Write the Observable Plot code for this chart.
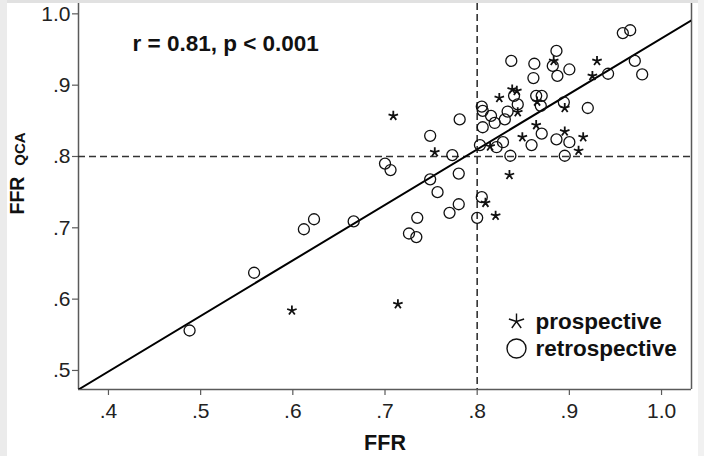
<!DOCTYPE html>
<html>
<head>
<meta charset="utf-8">
<script src="https://cdn.jsdelivr.net/npm/d3@7"></script>
<script src="https://cdn.jsdelivr.net/npm/@observablehq/plot@0.6"></script>
<style>
  html, body { margin: 0; padding: 0; background: #fff; }
  #wrap { position: relative; width: 704px; height: 456px; background: #fff; overflow: hidden; }
  .band { position: absolute; }
  #chart { position: absolute; left: 0; top: 0; }
</style>
</head>
<body>
<div id="wrap">
  <div class="band" style="left:0;top:0;width:704px;height:3px;background:#e1e1e1"></div>
  <div class="band" style="left:0;top:0;width:7px;height:456px;background:#ebebeb"></div>
  <div class="band" style="right:0;top:0;width:6px;height:456px;background:#f1f1f1"></div>
  <div id="chart"></div>
</div>
<script>
// ---- data ----
const retroX = [0.488,0.558,0.612,0.623,0.666,0.700,0.706,0.726,0.734,0.735,0.749,0.749,0.757,0.770,0.773,0.780,0.780,0.781,0.800,0.805,0.803,0.805,0.806,0.806,0.815,0.819,0.821,0.828,0.830,0.833,0.836,0.837,0.840,0.844,0.859,0.861,0.862,0.864,0.870,0.870,0.869,0.882,0.886,0.887,0.886,0.894,0.895,0.900,0.900,0.920,0.942,0.958,0.966,0.971,0.979];
const retroY = [0.556,0.637,0.698,0.712,0.709,0.790,0.781,0.692,0.687,0.714,0.829,0.768,0.750,0.721,0.802,0.733,0.776,0.852,0.714,0.743,0.816,0.870,0.864,0.841,0.857,0.847,0.813,0.820,0.852,0.863,0.801,0.934,0.885,0.873,0.816,0.910,0.930,0.885,0.885,0.832,0.871,0.927,0.948,0.913,0.824,0.876,0.801,0.820,0.922,0.868,0.916,0.973,0.977,0.934,0.915];
const prospX = [0.599,0.714,0.709,0.754,0.809,0.820,0.835,0.814,0.824,0.838,0.843,0.844,0.849,0.864,0.865,0.883,0.895,0.895,0.910,0.915,0.925,0.930];
const prospY = [0.584,0.593,0.857,0.806,0.735,0.717,0.774,0.814,0.882,0.894,0.892,0.862,0.827,0.844,0.877,0.934,0.868,0.835,0.808,0.827,0.913,0.934];

const xTicks = [0.4, 0.5, 0.6, 0.7, 0.8, 0.9, 1.0];
const xTickLabels = [".4", ".5", ".6", ".7", ".8", ".9", "1.0"];
const yTicks = [0.5, 0.6, 0.7, 0.8, 0.9, 1.0];
const yTickLabels = [".5", ".6", ".7", ".8", ".9", "1.0"];
const xDomain = [0.3675, 1.0325];
const yDomain = [0.4733, 1.0145];
const cutoffs = [0.8];
const fitX = [0.3675, 1.0325];
const fitY = [0.4733, 0.991];
const statText = ["r = 0.81, p < 0.001"];
const legendLabels = ["prospective", "retrospective"];
const xLabel = ["FFR"];
const yLabelMain = ["FFR"];
const yLabelSub = ["QCA"];

// ---- tables built from the arrays ----
const retro = retroX.map((x, i) => ({x, y: retroY[i]}));
const prosp = prospX.map((x, i) => ({x, y: prospY[i]}));
const fit = fitX.map((x, i) => ({x, y: fitY[i]}));

// five-armed asterisk symbol
const asterisk5 = {
  draw(ctx, size) {
    const r = Math.sqrt(size / Math.PI);
    for (let k = 0; k < 5; k++) {
      const a = -Math.PI / 2 + k * 2 * Math.PI / 5;
      ctx.moveTo(0, 0);
      ctx.lineTo(r * Math.cos(a), r * Math.sin(a));
    }
  }
};

const FONT = "'Liberation Sans', Arial, Helvetica, sans-serif";
const frameColor = "#5a5a5a";

const chart = Plot.plot({
  width: 704,
  height: 456,
  marginLeft: 78,
  marginRight: 13,
  marginTop: 3,
  marginBottom: 67,
  style: {background: "transparent", fontFamily: FONT, color: "#222"},
  x: {domain: xDomain},
  y: {domain: yDomain},
  marks: [
    // frame (left, bottom, right)
    Plot.ruleX([xDomain[0], xDomain[1]], {stroke: frameColor, strokeWidth: 1.5}),
    Plot.ruleY([yDomain[0]], {stroke: frameColor, strokeWidth: 1.5}),
    Plot.axisX({ticks: xTicks, tickFormat: d => xTickLabels[xTicks.indexOf(d)], tickSize: 6, tickPadding: 8, fontSize: 21, label: null, stroke: frameColor, strokeWidth: 1.2, fill: "#222"}),
    Plot.axisY({ticks: yTicks, tickFormat: d => yTickLabels[yTicks.indexOf(d)], tickSize: 6, tickPadding: 2, fontSize: 21, label: null, stroke: frameColor, strokeWidth: 1.2, fill: "#222"}),
    // reference lines
    Plot.ruleX(cutoffs, {stroke: "#333", strokeWidth: 1.6, strokeDasharray: "7,4"}),
    Plot.ruleY(cutoffs, {stroke: "#333", strokeWidth: 1.6, strokeDasharray: "7,4"}),
    // fit line
    Plot.line(fit, {x: "x", y: "y", stroke: "#000", strokeWidth: 2, clip: true}),
    // points
    Plot.dot(retro, {x: "x", y: "y", r: 5.5, stroke: "#111", strokeWidth: 1.3, fill: "none"}),
    Plot.dot(prosp, {x: "x", y: "y", symbol: asterisk5, r: 5, stroke: "#111", strokeWidth: 1.8, fill: "none"}),
    // annotation
    Plot.text(statText, {text: d => d, frameAnchor: "top-left", dx: 54, dy: 40, textAnchor: "start", lineAnchor: "middle", fontSize: 22.5, fontWeight: "bold", fill: "#111"}),
    // legend
    Plot.dot([legendLabels[0]], {frameAnchor: "bottom-right", dx: -175, dy: -68, symbol: asterisk5, r: 8, stroke: "#111", strokeWidth: 1.4, fill: "none"}),
    Plot.dot([legendLabels[1]], {frameAnchor: "bottom-right", dx: -175, dy: -41, r: 9.5, stroke: "#111", strokeWidth: 1.4, fill: "none"}),
    Plot.text([legendLabels[0]], {text: d => d, frameAnchor: "bottom-right", dx: -156, dy: -68, textAnchor: "start", lineAnchor: "middle", fontSize: 22.5, fontWeight: "bold", fill: "#111"}),
    Plot.text([legendLabels[1]], {text: d => d, frameAnchor: "bottom-right", dx: -156, dy: -41, textAnchor: "start", lineAnchor: "middle", fontSize: 22.5, fontWeight: "bold", fill: "#111"}),
    // axis titles
    Plot.text(xLabel, {text: d => d, frameAnchor: "bottom", dy: 54, textAnchor: "middle", lineAnchor: "middle", fontSize: 21.5, fontWeight: "bold", fill: "#111"}),
    Plot.text(yLabelMain, {text: d => d, frameAnchor: "left", dx: -60.5, dy: -1, rotate: -90, textAnchor: "middle", lineAnchor: "middle", fontSize: 19.5, fontWeight: "bold", fill: "#111"}),
    Plot.text(yLabelSub, {text: d => d, frameAnchor: "left", dx: -58, dy: -47.5, rotate: -90, textAnchor: "middle", lineAnchor: "middle", fontSize: 15, fontWeight: "bold", fill: "#111"})
  ]
});
document.getElementById("chart").appendChild(chart);
</script>
</body>
</html>
